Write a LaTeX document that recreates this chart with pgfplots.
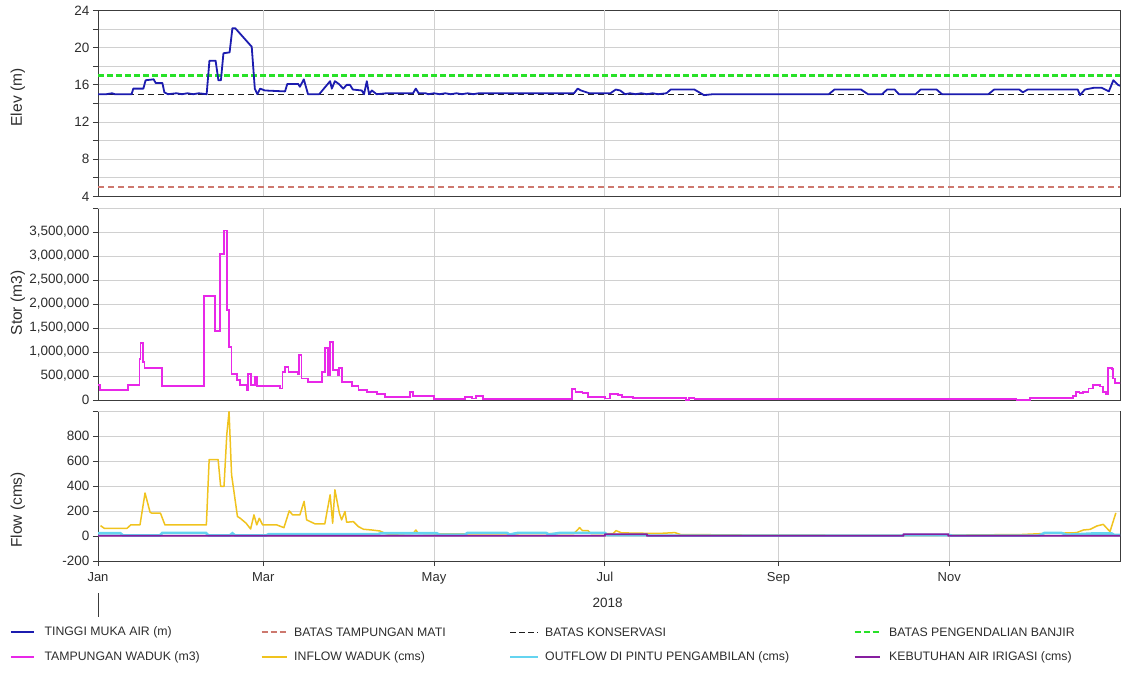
\documentclass[border=0pt]{standalone}
\usepackage{pgfplots}
\pgfplotsset{compat=1.18}
\usepackage{fontspec}
\setmainfont{Liberation Sans}
\definecolor{elevc}{RGB}{28,28,175}
\definecolor{matic}{RGB}{205,120,110}
\definecolor{konsc}{RGB}{30,30,30}
\definecolor{banjc}{RGB}{40,225,40}
\definecolor{storc}{RGB}{232,40,232}
\definecolor{inflc}{RGB}{240,195,30}
\definecolor{outfc}{RGB}{100,212,240}
\definecolor{kebuc}{RGB}{135,30,160}
\definecolor{gridc}{RGB}{208,208,208}
\definecolor{framec}{RGB}{60,60,60}
\definecolor{textc}{RGB}{45,45,45}
\pgfplotsset{
  panel/.style={
    scale only axis, width=1022pt, anchor=south west,
    xmin=0, xmax=365,
    ymajorgrids,
    grid style={line width=0.8pt, color=gridc},
    axis line style={line width=0.9pt, color=framec},
    tick style={line width=0.8pt, color=framec},
    major tick length=5pt, minor tick length=5pt,
    tick align=outside, ytick pos=left, xtick pos=bottom,
    ticklabel style={font=\fontsize{13.5}{15}\selectfont, text=textc},
    label style={font=\fontsize{15.5}{17}\selectfont, text=textc},
    /pgf/number format/assume math mode=true,
    scaled y ticks=false,
  },
  nox/.style={
    xtick=\empty,
    extra x ticks={59,120,181,243,304},
    extra x tick labels={},
    extra x tick style={grid=major, tick style={draw=none}},
  },
}
\begin{document}
\begin{tikzpicture}
\useasboundingbox (0pt,0pt) rectangle (1124pt,673pt);

% ---------------- Panel 1: Elevation ----------------
\begin{axis}[panel, nox, at={(98pt,476.5pt)}, height=186pt,
  ymin=4, ymax=24, ytick={4,8,...,24}, minor ytick={6,10,...,22},
  yminorgrids,
  ylabel={Elev (m)},
  ylabel style={at={(axis description cs:-0.0783,0.532)}, anchor=center},
]
\addplot[color=matic, line width=1.5pt, dash pattern=on 6pt off 4pt] coordinates {(0,5) (365,5)};
\addplot[color=konsc, line width=0.9pt, dash pattern=on 6pt off 4pt] coordinates {(0,15) (365,15)};
\addplot[color=banjc, line width=2.2pt, dash pattern=on 6pt off 3pt] coordinates {(0,17) (365,17)};
\addplot[color=elevc, line width=1.8pt, line join=round] coordinates {
(0,15.0)(3,15.0)(5,15.1)(6,15.0)(12,15.0)(12.6,15.6)(16.2,15.6)(17,16.5)(19.9,16.6)(20.6,16.2)
(23,16.2)(23.7,15.2)(25,15.0)(28,15.1)(30,15.0)(32,15.1)(34,15.0)(36,15.1)(38.8,15.0)(39.8,18.6)
(42,18.6)(43,16.5)(43.9,16.5)(44.8,19.4)(47,19.5)(48,22.1)(49,22.1)(54.9,20.1)(56,15.6)(56.9,15.0)
(57.9,15.6)(59.6,15.4)(66.8,15.3)(67.6,16.1)(71.5,16.1)(72.1,15.8)(73.5,16.6)(75,15.0)(79,15.0)
(82.9,16.4)(83.5,15.6)(84.6,16.4)(86,16.1)(87.6,15.6)(88.8,16.0)(90,16.0)(91,15.5)(94.2,15.4)
(95,15.0)(96,16.4)(96.8,15.0)(97.8,15.4)(99.5,15.0)(103,15.1)(108,15.1)(112.5,15.1)(113.5,15.6)
(114.5,15.1)(117,15.1)(118,15.0)(120,15.1)(122,15.0)(124,15.1)(126,15.0)(128,15.1)(130,15.0)
(132,15.1)(134,15.0)(136,15.1)(140,15.1)(150,15.1)(160,15.1)(170,15.1)(171.3,15.6)(172.5,15.4)
(175.5,15.1)(183,15.1)(184.9,15.5)(186.5,15.4)(188.2,15.0)(190,15.1)(192,15.0)(194,15.1)(196,15.0)
(198,15.1)(200,15.0)(203,15.1)(204.5,15.5)(213,15.5)(216.4,14.9)(219.7,15.0)(261,15.0)(263,15.5)
(272.5,15.5)(275,15.0)(280,15.0)(281.8,15.5)(284.5,15.5)(286,15.0)(292,15.0)(293.8,15.5)(299.5,15.5)
(301.4,15.0)(318,15.0)(320,15.5)(329,15.5)(330.3,15.2)(332,15.5)(349.9,15.5)(350.7,14.9)(352.4,15.5)
(355.8,15.7)(358.4,15.7)(361,15.3)(362.6,16.5)(364.3,16.0)(365,15.9)};
\end{axis}

% ---------------- Panel 2: Storage ----------------
\begin{axis}[panel, nox, at={(98pt,273pt)}, height=192pt,
  ymin=0, ymax=4000000, ytick={0,500000,...,3500000},
  extra y ticks={4000000}, extra y tick labels={},
  yticklabel style={/pgf/number format/.cd, fixed, 1000 sep={,}},
  ylabel={Stor (m3)},
  ylabel style={at={(axis description cs:-0.0783,0.505)}, anchor=center},
]
\addplot[const plot, color=storc, line width=1.8pt] coordinates {
(0,310000)(0.7,210000)(10.6,310000)(14.8,860000)(15.2,1190000)(16,790000)(16.6,660000)(22.9,290000)
(37.9,2170000)(41.8,1430000)(43.6,3050000)(45,3530000)(46,1880000)(46.9,1100000)(47.7,540000)
(49.5,410000)(50.7,310000)(53,210000)(53.7,550000)(54.5,310000)(56,480000)(56.8,290000)(65,240000)
(65.9,590000)(66.8,690000)(68,590000)(71.3,540000)(71.8,930000)(72.7,450000)(75,380000)(79.9,590000)
(81.1,1080000)(82,520000)(82.9,1210000)(84,620000)(85.5,520000)(86.2,660000)(87,380000)(90.6,290000)
(93,210000)(96,170000)(99.5,120000)(102.5,60000)(111.4,170000)(112.6,90000)(120,20000)(131,70000)
(133.5,30000)(135,80000)(137.5,20000)(169.2,230000)(170.5,170000)(173,140000)(175,70000)(181,30000)
(182.9,125000)(185.7,100000)(187,70000)(191,35000)(203,50000)(210,0)(211,50000)(213,20000)(328,0)
(332.7,50000)(340.6,40000)(342,50000)(348.3,90000)(349.3,170000)(350.5,140000)(351.9,170000)
(353.7,240000)(355.2,310000)(357.9,280000)(358.8,170000)(360,125000)(360.6,670000)(362.1,640000)
(362.6,450000)(363.3,360000)(365,350000)};
\end{axis}

% ---------------- Panel 3: Flow ----------------
\begin{axis}[panel, at={(98pt,112pt)}, height=150pt,
  ymin=-200, ymax=1000, ytick={-200,0,...,800},
  extra y ticks={1000}, extra y tick labels={},
  xtick={0,59,120,181,243,304}, xticklabels={Jan,Mar,May,Jul,Sep,Nov},
  xmajorgrids,
  xticklabel style={font=\fontsize{13}{15}\selectfont, yshift=-3pt},
  xlabel={2018},
  xlabel style={at={(axis description cs:0.4987,-0.28)}, anchor=center, font=\fontsize{13.5}{15}\selectfont},
  ylabel={Flow (cms)},
  ylabel style={at={(axis description cs:-0.0783,0.34)}, anchor=center},
]
\addplot[color=inflc, line width=1.5pt, line join=round] coordinates {
(0.9,83)(2.2,62)(10.4,62)(11.7,89)(15,89)(16.8,344)(18.6,190)(19.2,183)(22.3,183)(23.9,89)(38.7,89)
(39.7,612)(42.9,612)(43.8,397)(45,397)(46,813)(46.8,995)(47.7,491)(49.8,156)(50.8,142)(52.9,102)
(54.5,56)(55.7,169)(56.7,89)(57.6,142)(58.8,89)(63.8,89)(66.4,67)(68.3,201)(69.5,169)(72.1,169)
(73.6,277)(74.5,129)(77.5,97)(81,97)(82.9,330)(83.8,102)(84.6,370)(86.2,183)(87,129)(88.2,196)
(88.8,110)(91.2,115)(93,75)(94.8,54)(97.8,48)(100.7,40)(102.5,21)(104,13)(112.6,21)(113.5,48)
(114.4,21)(120,18)(150,18)(170,20)(172,67)(173,43)(175,43)(176,20)(184,20)(185,43)(187,25)(200,20)
(206,27)(208,12)(230,8)(260,6)(300,6)(330,12)(340,22)(348,25)(349.5,27)(351.9,48)(354.3,53)
(356.7,80)(359,93)(361.4,35)(363.5,185)};
\addplot[color=outfc, line width=2.6pt] coordinates {
(0,22)(8,22)(9,4)(22,4)(23,25)(38.5,25)(39.5,4)(47,4)(48,22)(49,4)(60,4)(61,15)(100,15)(101,22)
(121,22)(122,10)(131,10)(132,25)(146,25)(147,12)(150,25)(160,25)(161,12)(165,25)(181,25)(182,8)
(196,8)(197,3)(287,3)(288,8)(304,8)(305,3)(336,3)(338,25)(344,25)(346,10)(355,20)(362,20)(363,8)(365,8)};
\addplot[color=kebuc, line width=1.8pt] coordinates {
(0,2)(181,2)(181.1,14)(196,14)(196.1,2)(287.6,2)(287.7,14)(303.6,14)(303.7,2)(365,2)};
\end{axis}

% year-axis tick below Jan
\draw[color=framec, line width=0.8pt] (98pt,80pt) -- (98pt,56pt);

% ---------------- Legend ----------------
\begin{scope}[every node/.style={anchor=west, inner sep=0pt, font=\fontsize{12.3}{14}\selectfont, text=textc}]
\draw[elevc, line width=2pt] (10.8pt,41pt) -- (34.4pt,41pt);
\node at (44.4pt,41pt) {TINGGI MUKA AIR (m)};
\draw[matic, line width=1.4pt, dash pattern=on 6pt off 3pt] (261.6pt,41pt) -- (286.7pt,41pt);
\node at (294pt,41pt) {BATAS TAMPUNGAN MATI};
\draw[konsc, line width=1pt, dash pattern=on 6pt off 3pt] (510pt,41pt) -- (537.6pt,41pt);
\node at (545pt,41pt) {BATAS KONSERVASI};
\draw[banjc, line width=2pt, dash pattern=on 6pt off 3pt] (854.5pt,41pt) -- (880pt,41pt);
\node at (889pt,41pt) {BATAS PENGENDALIAN BANJIR};
\draw[storc, line width=2pt] (10.8pt,16pt) -- (34.4pt,16pt);
\node at (44.4pt,16pt) {TAMPUNGAN WADUK (m3)};
\draw[inflc, line width=2pt] (261.6pt,16pt) -- (286.7pt,16pt);
\node at (294pt,16pt) {INFLOW WADUK (cms)};
\draw[outfc, line width=2pt] (510pt,16pt) -- (537.6pt,16pt);
\node at (545pt,16pt) {OUTFLOW DI PINTU PENGAMBILAN (cms)};
\draw[kebuc, line width=2pt] (854.5pt,16pt) -- (880pt,16pt);
\node at (889pt,16pt) {KEBUTUHAN AIR IRIGASI (cms)};
\end{scope}
\end{tikzpicture}
\end{document}
